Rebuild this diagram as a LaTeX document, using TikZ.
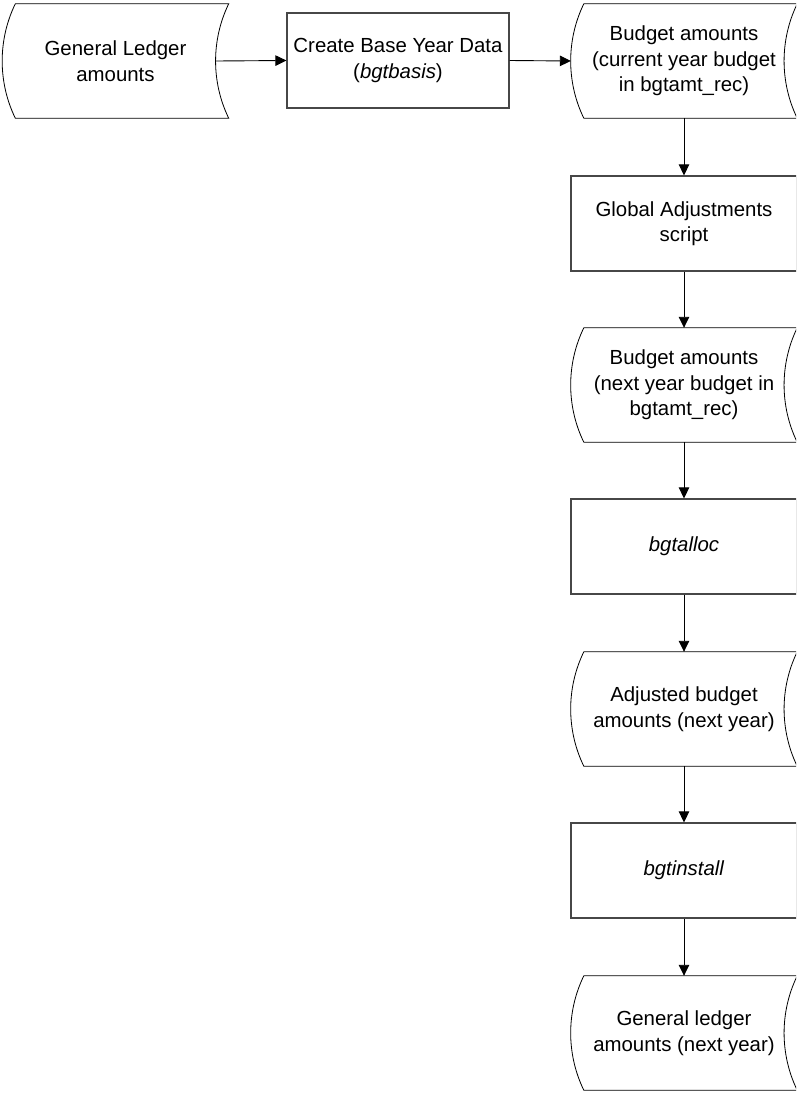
\documentclass[tikz,border=0pt]{standalone}
\usepackage{fontspec}
\setmainfont{Liberation Sans}
\usetikzlibrary{arrows.meta,calc}

% Outline of a "stored data" symbol around the body node #1:
% both sides are arcs that bow to the left.
\newcommand\storedoutline[1]{%
  \draw[dataline]
    ($(#1.north west)+(6.5,0)$) -- ($(#1.north east)+(6.5,0)$)
    .. controls ($(#1.north east)+(-11,36)$) and ($(#1.south east)+(-11,-36)$)
    .. ($(#1.south east)+(6.5,0)$)
    -- ($(#1.south west)+(6.5,0)$)
    .. controls ($(#1.south west)+(-11,-36)$) and ($(#1.north west)+(-11,36)$)
    .. cycle;%
}

\begin{document}
\begin{tikzpicture}[x=1pt,y=-1pt,
  every node/.style={font=\fontsize{20.4}{25.5}\selectfont, align=center, inner sep=0pt},
  procbox/.style={draw=black!72, line width=1.2pt, minimum width=226pt, minimum height=95pt},
  databody/.style={minimum width=213pt, minimum height=114pt},
  dataline/.style={draw=black, line width=0.8pt},
  flow/.style={draw=black, line width=0.9pt, -{Triangle[length=11pt,width=10.5pt]}}
]
\useasboundingbox (0,0) rectangle (796,1093);
\clip (0,0) rectangle (796,1093);

% top row
\node[databody] (gl) at (115.5,61) {General Ledger\\amounts};
\node[procbox, minimum width=222pt] (base) at (398,60.5) {Create Base Year Data\\(\textit{bgtbasis})};
\node[databody] (bud1) at (684,61) {Budget amounts\\(current year budget\\in bgtamt\_rec)};

% right column
\node[procbox] (glob) at (684,223.5) {Global Adjustments\\script};
\node[databody] (bud2) at (684,385) {Budget amounts\\(next year budget in\\bgtamt\_rec)};
\node[procbox] (alloc) at (684,546.5) {\textit{bgtalloc}};
\node[databody] (adj) at (684,709) {Adjusted budget\\amounts (next year)};
\node[procbox] (inst) at (684,870.5) {\textit{bgtinstall}};
\node[databody] (gl2) at (684,1033) {General ledger\\amounts (next year)};

\storedoutline{gl}
\storedoutline{bud1}
\storedoutline{bud2}
\storedoutline{adj}
\storedoutline{gl2}

% connectors
\draw[flow] ($(gl.east)+(-6.5,0)$) -- (base.west);
\draw[flow] (base.east) -- ($(bud1.west)+(-6.5,0)$);
\draw[flow] (bud1.south) -- (glob.north);
\draw[flow] (glob.south) -- (bud2.north);
\draw[flow] (bud2.south) -- (alloc.north);
\draw[flow] (alloc.south) -- (adj.north);
\draw[flow] (adj.south) -- (inst.north);
\draw[flow] (inst.south) -- (gl2.north);
\end{tikzpicture}
\end{document}
